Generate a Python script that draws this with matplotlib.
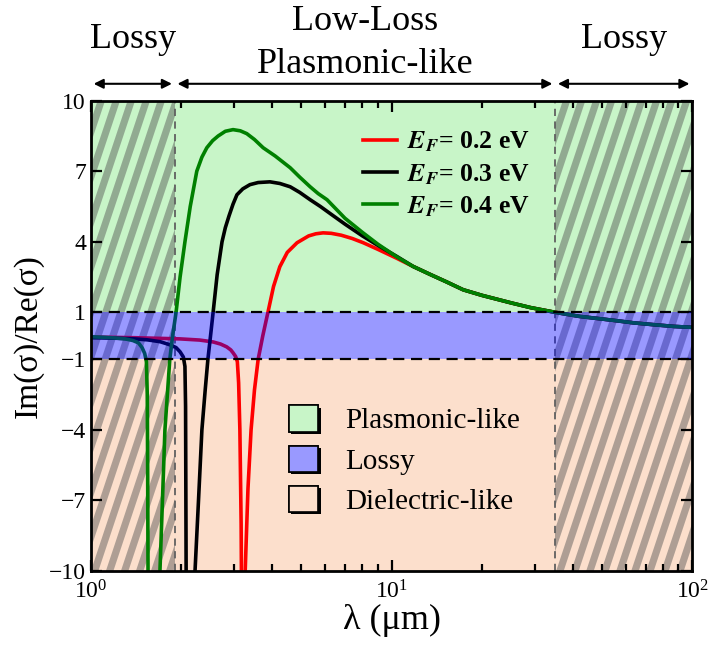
import numpy as np
import matplotlib
matplotlib.use("Agg")
import matplotlib.pyplot as plt
import matplotlib.patheffects as pe
from matplotlib.patches import Patch, Polygon
from matplotlib.collections import PatchCollection

plt.rcParams['font.family'] = ['Liberation Serif', 'DejaVu Serif']
plt.rcParams['mathtext.fontset'] = 'stix'

# region limits (um)
lam_lo = 1.9
lam_hi = 35.0

# common long-wavelength tail
tail_lam = [11.8, 13.5, 15.2, 17.3, 20, 25, 29, 35, 42, 54.6, 64, 75, 87, 100]
tail_val = [2.95, 2.6, 2.3, 1.96, 1.72, 1.4, 1.2, 1.0, 0.83, 0.66, 0.55, 0.47, 0.4, 0.36]

# E_F = 0.2 eV
red_lam_a = [1.0, 1.4, 1.98, 2.3, 2.55, 2.7, 2.83, 2.92, 2.97, 3.03, 3.07, 3.1, 3.13, 3.16, 3.17]
red_val_a = [-0.05, -0.08, -0.13, -0.18, -0.26, -0.35, -0.47, -0.6, -0.72, -0.88, -1.1, -2.0, -4.0, -8.0, -11.0]
red_lam_b = [3.25, 3.26, 3.33, 3.41, 3.5, 3.6, 3.73, 3.88, 4.05, 4.25, 4.5, 4.85, 5.3, 5.6, 5.92, 6.3,
             6.8, 7.4, 8.05, 9.0, 10.4] + tail_lam
red_val_b = [-11, -10, -6.5, -4, -2.3, -1, 0, 1, 2.1, 2.94, 3.55, 3.96, 4.25, 4.34, 4.38, 4.36,
             4.28, 4.14, 3.96, 3.68, 3.3] + tail_val

# E_F = 0.3 eV
blk_lam_a = [1.0, 1.2, 1.4, 1.54, 1.7, 1.83, 1.92, 1.98, 2.03, 2.055, 2.065, 2.07, 2.075]
blk_val_a = [-0.08, -0.1, -0.13, -0.17, -0.25, -0.38, -0.5, -0.68, -0.9, -1.3, -3.0, -7.0, -11.0]
blk_lam_b = [2.21, 2.22, 2.28, 2.34, 2.40, 2.45, 2.5, 2.55, 2.63, 2.73, 2.8, 2.88, 2.97, 3.06, 3.2,
             3.38, 3.6, 3.94, 4.25, 4.6, 4.95, 5.36, 5.8, 6.25, 7.0, 8.0, 9.0, 10.4] + tail_lam
blk_val_b = [-11, -10, -7, -4, -2.3, -1, 0, 1, 2.6, 4, 4.6, 5.1, 5.6, 6.0, 6.25,
             6.43, 6.52, 6.55, 6.48, 6.34, 6.1, 5.79, 5.5, 5.2, 4.75, 4.25, 3.85, 3.38] + tail_val

# E_F = 0.4 eV
grn_lam_a = [1.0, 1.1, 1.2, 1.3, 1.38, 1.44, 1.48, 1.51, 1.53, 1.54, 1.545, 1.55]
grn_val_a = [-0.04, -0.06, -0.09, -0.13, -0.2, -0.3, -0.5, -0.75, -1.1, -2.5, -6.0, -11.0]
grn_lam_b = [1.69, 1.697, 1.73, 1.763, 1.83, 1.87, 1.92, 1.98, 2.055, 2.14, 2.25, 2.34, 2.43, 2.54,
             2.65, 2.8, 2.97, 3.14, 3.3, 3.5, 3.74, 4.1, 4.6, 4.95, 5.36, 5.7, 6.1, 7.0, 8.0, 9.0,
             10.4] + tail_lam
grn_val_b = [-11, -10, -7, -4, -1, 0, 1, 2.5, 4, 5.5, 7, 7.6, 8, 8.3,
             8.5, 8.7, 8.77, 8.72, 8.6, 8.35, 8.0, 7.65, 7.15, 6.75, 6.34, 6.05, 5.79, 5.0, 4.4, 3.9,
             3.36] + tail_val

yticks = [-10, -7, -4, -1, 1, 4, 7, 10]

fig = plt.figure(figsize=(7.1, 6.54), dpi=100)
ax = fig.add_axes([0.128, 0.127, 0.847, 0.719])
ax.set_xscale('log')
ax.set_xlim(1, 100)
ax.set_ylim(-10, 10)

# background regions
ax.axhspan(1, 10, color='#c8f5c8', lw=0, zorder=0)
ax.axhspan(-10, -1, color='#fcdfcc', lw=0, zorder=0)

# slanted stripes over the lossy wavelength ranges
w_px, h_px = 601.0, 470.0
period = 15.0 / w_px
width = 7.5 / w_px
shift = (h_px / 3.0) / w_px
for lo, hi in [(1, lam_lo), (lam_hi, 100)]:
    clip = ax.axvspan(lo, hi, facecolor='none', edgecolor='none')
    polys = []
    for k in range(-25, 70):
        x0 = k * period
        polys.append(Polygon([(x0, 0), (x0 + width, 0), (x0 + width + shift, 1), (x0 + shift, 1)]))
    pc = PatchCollection(polys, facecolor='#505050', edgecolor='none', alpha=0.45,
                         transform=ax.transAxes, zorder=1)
    ax.add_collection(pc)
    pc.set_clip_path(clip)

ax.axvline(lam_lo, color='#606060', ls=(0, (4, 3)), lw=1.3, zorder=2)
ax.axvline(lam_hi, color='#606060', ls=(0, (4, 3)), lw=1.3, zorder=2)

lw = 2.6
ax.plot(red_lam_a, red_val_a, color='#ff0000', lw=lw, zorder=3)
ax.plot(red_lam_b, red_val_b, color='#ff0000', lw=lw, zorder=3, label=r'$\mathbfit{E}_{\mathbfit{F}}$= 0.2 eV')
ax.plot(blk_lam_a, blk_val_a, color='black', lw=lw, zorder=3)
ax.plot(blk_lam_b, blk_val_b, color='black', lw=lw, zorder=3, label=r'$\mathbfit{E}_{\mathbfit{F}}$= 0.3 eV')
ax.plot(grn_lam_a, grn_val_a, color='#008000', lw=lw, zorder=3)
ax.plot(grn_lam_b, grn_val_b, color='#008000', lw=lw, zorder=3, label=r'$\mathbfit{E}_{\mathbfit{F}}$= 0.4 eV')

# lossy band drawn over the curves
ax.axhspan(-1, 1, color='blue', alpha=0.4, lw=0, zorder=4)
ax.axhline(1, color='black', ls=(0, (5, 3)), lw=1.6, zorder=5)
ax.axhline(-1, color='black', ls=(0, (5, 3)), lw=1.6, zorder=5)

ax.set_yticks(yticks)
ax.tick_params(axis='both', which='both', direction='in', top=True, right=True, labelsize=17, width=1.6)
ax.tick_params(which='major', length=8)
ax.tick_params(which='minor', length=5)
ax.tick_params(axis='x', pad=7)
for s in ax.spines.values():
    s.set_linewidth(2)
    s.set_zorder(6)

ax.set_xlabel('λ (μm)', fontsize=26, labelpad=0)
ax.set_ylabel('Im(σ)/Re(σ)', fontsize=24, labelpad=4)

# curve legend
leg1 = ax.legend(loc='upper left', bbox_to_anchor=(0.453, 0.938), frameon=False,
                 prop={'weight': 'bold', 'size': 18.5}, handlelength=1.3, handletextpad=0.4,
                 labelspacing=0.3, borderpad=0, borderaxespad=0)
ax.add_artist(leg1)

# region legend
shadow = [pe.withSimplePatchShadow(offset=(1.5, -1.5), shadow_rgbFace='black', alpha=1.0), pe.Normal()]
handles = [Patch(facecolor='#c8f5c8', edgecolor='black', lw=1.2, path_effects=shadow),
           Patch(facecolor='#9999ff', edgecolor='black', lw=1.2, path_effects=shadow),
           Patch(facecolor='#fcdfcc', edgecolor='black', lw=1.2, path_effects=shadow)]
ax.legend(handles, ['Plasmonic-like', 'Lossy', 'Dielectric-like'], loc='upper left',
          bbox_to_anchor=(0.33, 0.352), frameon=False, fontsize=21, handlelength=1.0,
          handleheight=1.0, handletextpad=0.9, labelspacing=0.38, borderpad=0, borderaxespad=0)

# top annotations
tr = ax.get_xaxis_transform()
arrow = dict(arrowstyle='<|-|>', color='black', lw=1.5, mutation_scale=14, shrinkA=2, shrinkB=2)
for lo, hi in [(1, lam_lo), (lam_lo, lam_hi), (lam_hi, 100)]:
    ax.annotate('', xy=(lo, 1.036), xytext=(hi, 1.036), xycoords=tr, textcoords=tr,
                arrowprops=arrow, annotation_clip=False)
ax.text(np.sqrt(1 * lam_lo), 1.13, 'Lossy', transform=tr, ha='center', va='center', fontsize=26)
ax.text(np.sqrt(lam_lo * lam_hi), 1.122, 'Low-Loss\nPlasmonic-like', transform=tr, ha='center',
        va='center', fontsize=26, linespacing=1.4)
ax.text(np.sqrt(lam_hi * 100), 1.13, 'Lossy', transform=tr, ha='center', va='center', fontsize=26)

fig.savefig('out.png', dpi=100)
